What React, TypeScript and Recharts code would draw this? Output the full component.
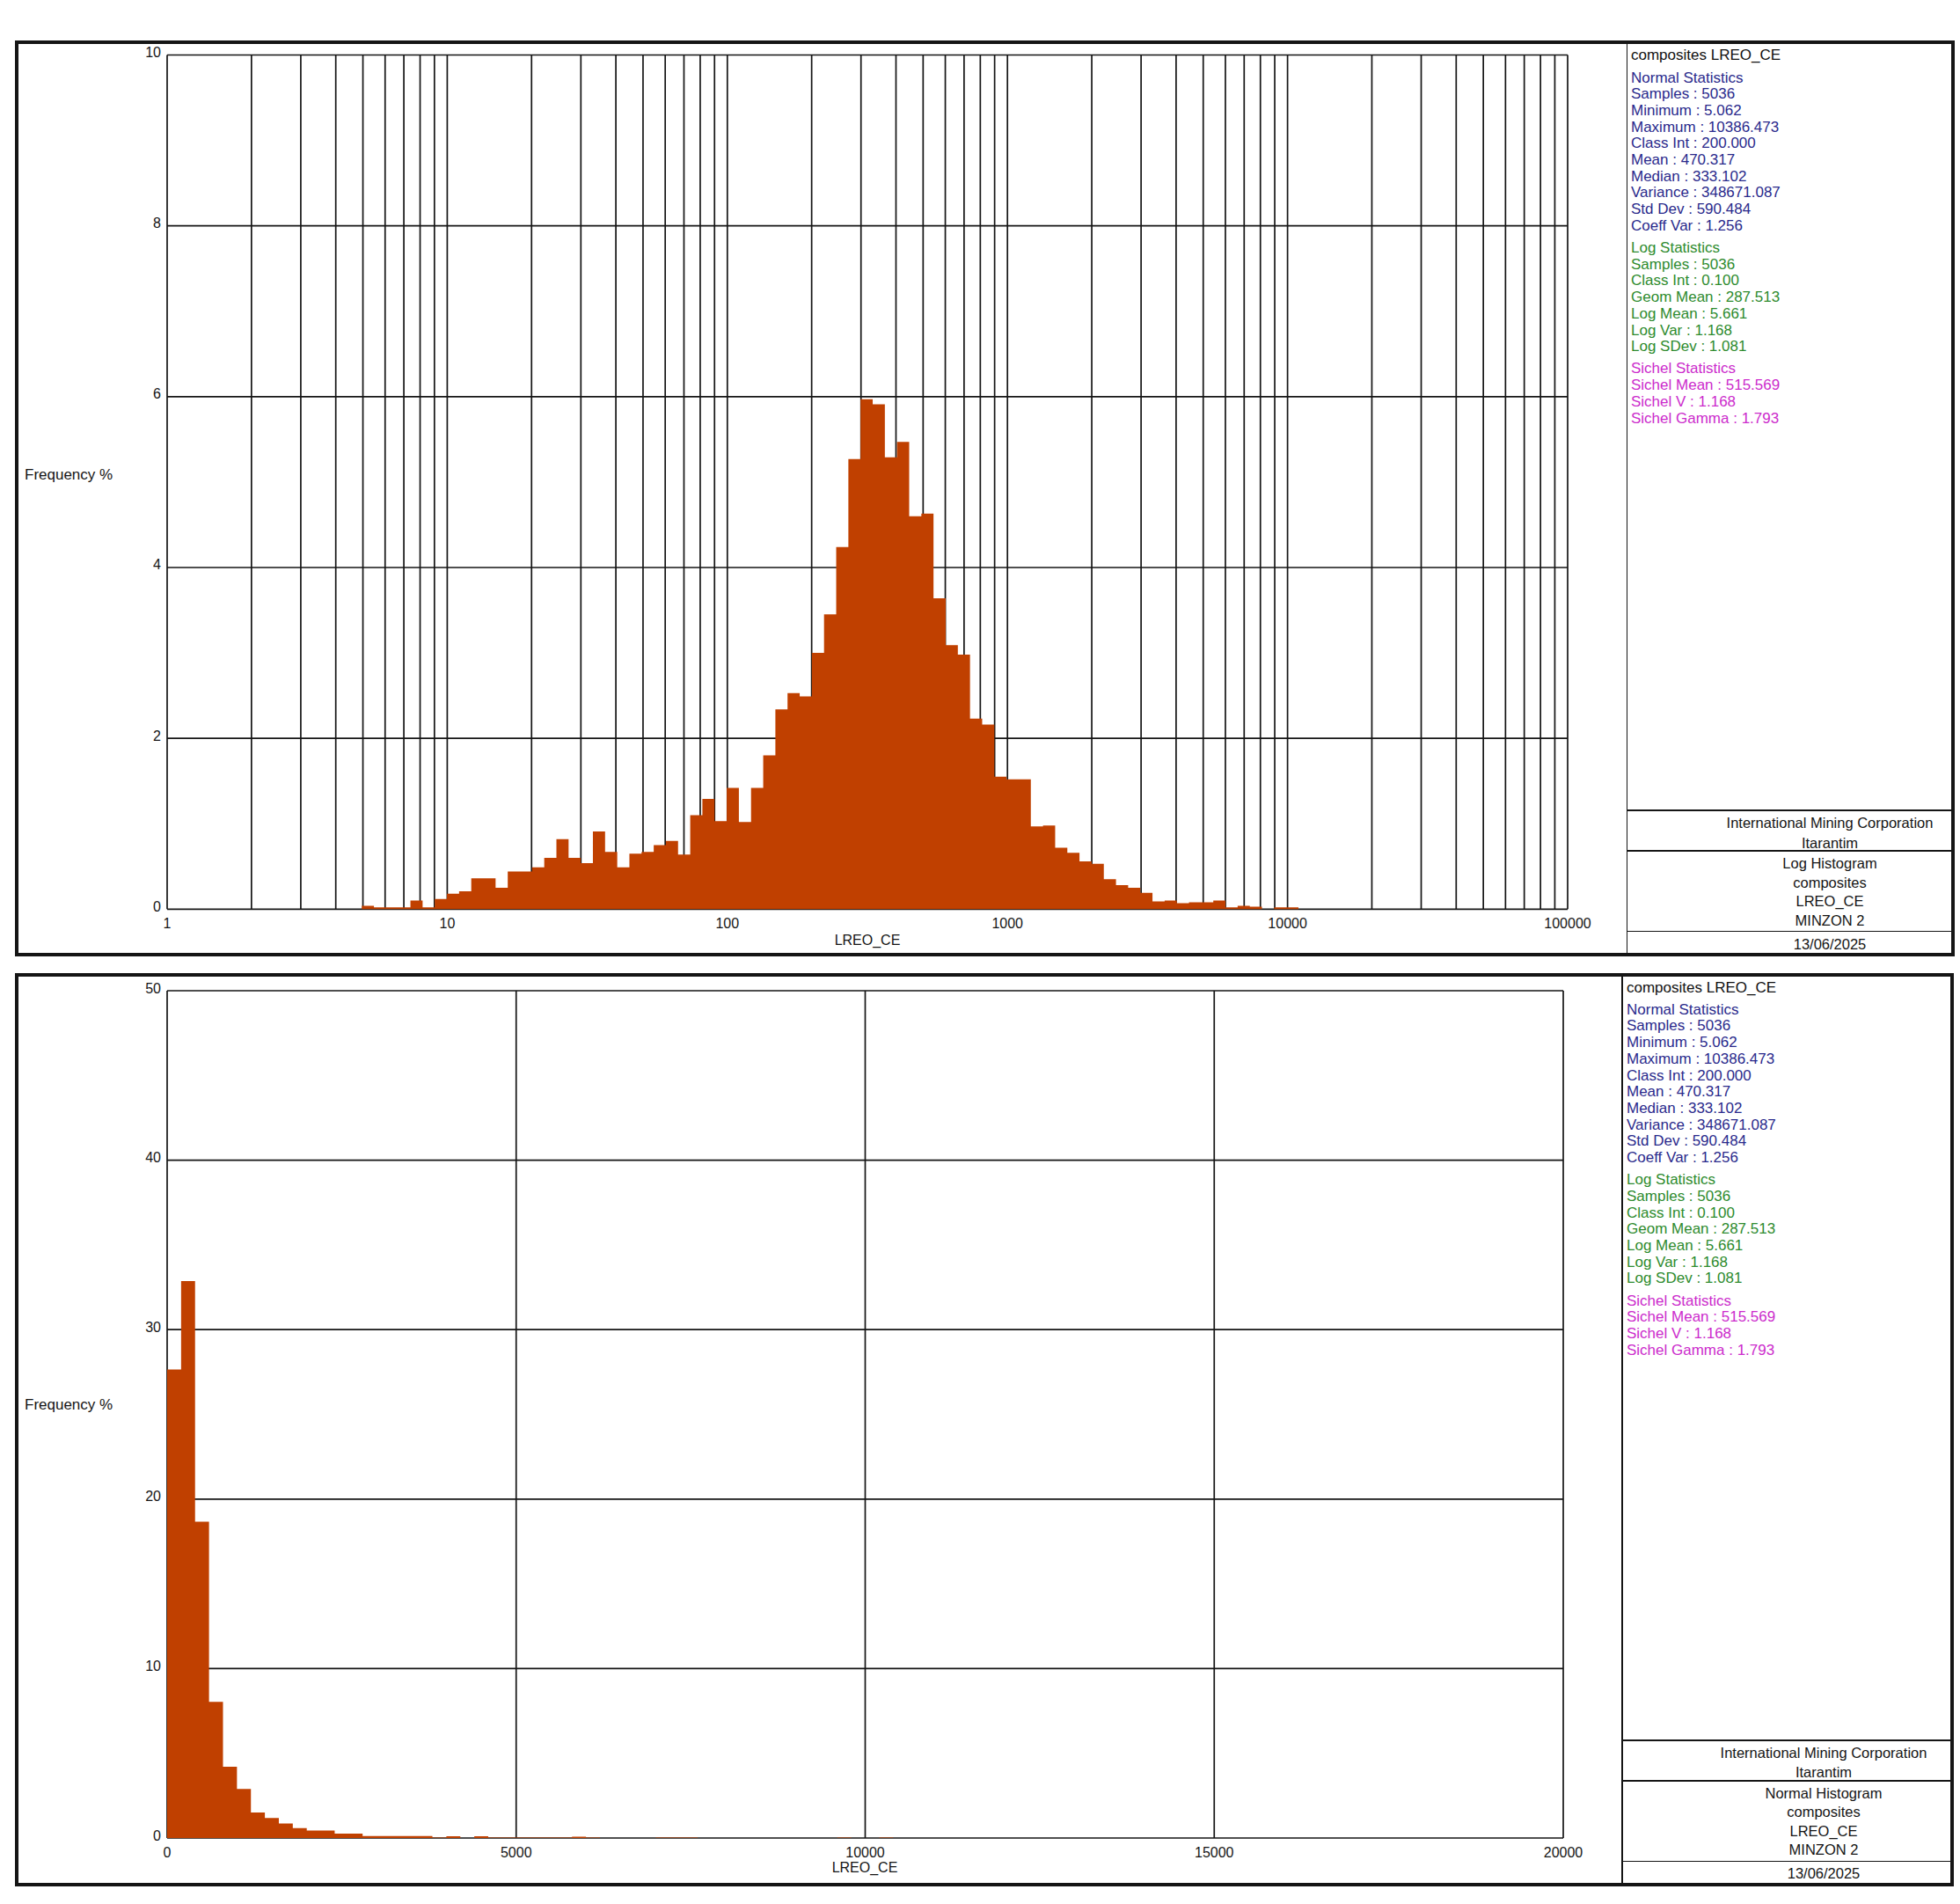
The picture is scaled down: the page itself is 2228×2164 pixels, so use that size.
import React from "react";
import { ComposedChart, Area, XAxis, YAxis, CartesianGrid } from "recharts";

// Log histogram: frequency % per ln-class of 0.1, first class starts at ln = 1.6
const LOG_CLASS_INT = 0.1;
const LOG_FIRST_CLASS = 16;
const logFreq = [
  0.04, 0.02, 0.02, 0.02, 0.1, 0.02, 0.12, 0.18, 0.21, 0.36,
  0.36, 0.25, 0.44, 0.44, 0.49, 0.6, 0.82, 0.6, 0.54, 0.91,
  0.67, 0.49, 0.65, 0.67, 0.75, 0.8, 0.64, 1.1, 1.29, 1.03,
  1.42, 1.02, 1.42, 1.8, 2.34, 2.53, 2.49, 3.0, 3.45, 4.24,
  5.27, 5.97, 5.91, 5.29, 5.47, 4.6, 4.63, 3.64, 3.09, 2.98,
  2.23, 2.16, 1.55, 1.52, 1.52, 0.97, 0.98, 0.72, 0.66, 0.56,
  0.53, 0.35, 0.28, 0.25, 0.19, 0.09, 0.1, 0.07, 0.08, 0.08,
  0.1, 0.02, 0.04, 0.03, 0, 0.02, 0.02,
];

// Normal histogram: frequency % per class of 200
const NORMAL_CLASS_INT = 200;
const normalFreq = [
  27.65, 32.87, 18.66, 8.03, 4.21, 2.89, 1.51, 1.18, 0.86, 0.59,
  0.44, 0.44, 0.26, 0.26, 0.12, 0.12, 0.12, 0.12, 0.12, 0.02,
  0.1, 0, 0.1, 0.02, 0.02, 0.02, 0.02, 0.02, 0.02, 0.08,
  0.02, 0, 0, 0, 0, 0.02, 0.02, 0.02, 0, 0,
  0, 0, 0, 0, 0, 0, 0, 0, 0.02, 0,
  0, 0.02,
];

const logTicks = [
  1, 2, 3, 4, 5, 6, 7, 8, 9,
  10, 20, 30, 40, 50, 60, 70, 80, 90,
  100, 200, 300, 400, 500, 600, 700, 800, 900,
  1000, 2000, 3000, 4000, 5000, 6000, 7000, 8000, 9000,
  10000, 20000, 30000, 40000, 50000, 60000, 70000, 80000, 90000,
  100000,
];
const logLabels = [1, 10, 100, 1000, 10000, 100000];
const logYTicks = [0, 2, 4, 6, 8, 10];
const normalXTicks = [0, 5000, 10000, 15000, 20000];
const normalYTicks = [0, 10, 20, 30, 40, 50];

const statTitle = "composites LREO_CE";
const normalStats = [
  "Normal Statistics",
  "Samples : 5036",
  "Minimum : 5.062",
  "Maximum : 10386.473",
  "Class Int : 200.000",
  "Mean : 470.317",
  "Median : 333.102",
  "Variance : 348671.087",
  "Std Dev : 590.484",
  "Coeff Var : 1.256",
];
const logStats = [
  "Log Statistics",
  "Samples : 5036",
  "Class Int : 0.100",
  "Geom Mean : 287.513",
  "Log Mean : 5.661",
  "Log Var : 1.168",
  "Log SDev : 1.081",
];
const sichelStats = [
  "Sichel Statistics",
  "Sichel Mean : 515.569",
  "Sichel V : 1.168",
  "Sichel Gamma : 1.793",
];
const company = ["International Mining Corporation", "Itarantim"];
const logTitle = ["Log Histogram", "composites", "LREO_CE", "MINZON 2"];
const normalTitle = ["Normal Histogram", "composites", "LREO_CE", "MINZON 2"];
const plotDate = "13/06/2025";

const FONT = "'Liberation Sans', Arial, sans-serif";
const BAR = "#c04000";
const INK = "#151515";

const logData = [
  ...logFreq.map((f, i) => ({ x: Math.exp((LOG_FIRST_CLASS + i) * LOG_CLASS_INT), freq: f })),
  { x: Math.exp((LOG_FIRST_CLASS + logFreq.length) * LOG_CLASS_INT), freq: 0 },
];
const normalData = [
  ...normalFreq.map((f, i) => ({ x: i * NORMAL_CLASS_INT, freq: f })),
  { x: normalFreq.length * NORMAL_CLASS_INT, freq: 0 },
];

function Txt({ x, y, children, color = INK, size = 17, center = false }: any) {
  return (
    <div
      style={{
        position: "absolute",
        left: x,
        top: y - 10,
        lineHeight: "20px",
        height: 20,
        fontSize: size,
        fontFamily: FONT,
        color,
        whiteSpace: "nowrap",
        transform: center ? "translateX(-50%)" : undefined,
      }}
    >
      {children}
    </div>
  );
}

function XTick({ x, y, payload, show }: any) {
  if (show && !show.includes(payload.value)) return null;
  return (
    <text x={x} y={y + 22} textAnchor="middle" fontSize={16} fontFamily={FONT} fill={INK}>
      {payload.value}
    </text>
  );
}

function YTick({ x, y, payload }: any) {
  return (
    <text x={x} y={y + 2.5} textAnchor="end" fontSize={16} fontFamily={FONT} fill={INK}>
      {payload.value}
    </text>
  );
}

function Panel({ T, B, sepX, right, textX, centerX, title }: any) {
  const line = (style: any) => <div style={{ position: "absolute", background: INK, ...style }} />;
  const LH = 18.7;
  const GAP = 6.5;
  const rows: { text: string; color: string; y: number }[] = [];
  let y = T + 15;
  rows.push({ text: statTitle, color: "#111", y });
  y += LH + GAP;
  normalStats.forEach((s, i) => rows.push({ text: s, color: "#2a2a8c", y: y + i * LH }));
  y += (normalStats.length - 1) * LH + LH + GAP;
  logStats.forEach((s, i) => rows.push({ text: s, color: "#2e8b2e", y: y + i * LH }));
  y += (logStats.length - 1) * LH + LH + GAP;
  sichelStats.forEach((s, i) => rows.push({ text: s, color: "#cc2ccc", y: y + i * LH }));
  return (
    <>
      <div
        style={{
          position: "absolute",
          left: 17,
          top: T - 2,
          width: right + 2 - 17,
          height: B - T + 4,
          border: `4px solid ${INK}`,
          boxSizing: "border-box",
        }}
      />
      {line({ left: sepX - 0.75, top: T, width: 1.5, height: B - T })}
      {[B - 164, B - 118, B - 26.5].map((hy, i) => (
        <React.Fragment key={i}>{line({ left: sepX, top: hy - 0.75, width: right - sepX, height: 1.5 })}</React.Fragment>
      ))}
      {rows.map((r, i) => (
        <Txt key={i} x={textX} y={r.y} color={r.color}>
          {r.text}
        </Txt>
      ))}
      <Txt x={centerX} y={B - 150} size={16.5} center>{company[0]}</Txt>
      <Txt x={centerX} y={B - 127.5} size={16.5} center>{company[1]}</Txt>
      {title.map((t: string, i: number) => (
        <Txt key={t} x={centerX} y={B - 104 + i * 21.5} size={16.5} center>
          {t}
        </Txt>
      ))}
      <Txt x={centerX} y={B - 12.5} size={16.5} center>{plotDate}</Txt>
    </>
  );
}

export default function App() {
  return (
    <div style={{ position: "absolute", left: 0, top: 0, width: 2228, height: 2164, background: "#fff", overflow: "hidden" }}>
      <Panel T={48.3} B={1085} sepX={1849.5} right={2220} textX={1854} centerX={2080} title={logTitle} />
      <Panel T={1107.5} B={2141.8} sepX={1844} right={2218.5} textX={1849} centerX={2073} title={normalTitle} />

      {/* log histogram */}
      <div style={{ position: "absolute", left: 0, top: 0 }}>
        <ComposedChart width={1840} height={1100} data={logData} margin={{ top: 62.5, right: 58, bottom: 36.7, left: 130 }}>
          <CartesianGrid stroke={INK} strokeWidth={1.7} />
          <XAxis
            dataKey="x"
            type="number"
            scale="log"
            domain={[1, 100000]}
            ticks={logTicks}
            interval={0}
            height={30}
            axisLine={false}
            tickLine={false}
            tickSize={0}
            tickMargin={0}
            tick={<XTick show={logLabels} />}
            allowDataOverflow
          />
          <YAxis
            type="number"
            domain={[0, 10]}
            ticks={logYTicks}
            interval={0}
            width={60}
            axisLine={false}
            tickLine={false}
            tickSize={0}
            tickMargin={7}
            tick={<YTick />}
          />
          <Area
            dataKey="freq"
            type="stepAfter"
            stroke="none"
            fill={BAR}
            fillOpacity={1}
            isAnimationActive={false}
            dot={false}
            activeDot={false}
          />
        </ComposedChart>
      </div>

      {/* normal histogram */}
      <div style={{ position: "absolute", left: 0, top: 1060 }}>
        <ComposedChart width={1840} height={1100} data={normalData} margin={{ top: 66, right: 63, bottom: 41, left: 130 }}>
          <CartesianGrid stroke={INK} strokeWidth={1.7} />
          <XAxis
            dataKey="x"
            type="number"
            domain={[0, 20000]}
            ticks={normalXTicks}
            interval={0}
            height={30}
            axisLine={false}
            tickLine={false}
            tickSize={0}
            tickMargin={0}
            tick={<XTick />}
          />
          <YAxis
            type="number"
            domain={[0, 50]}
            ticks={normalYTicks}
            interval={0}
            width={60}
            axisLine={false}
            tickLine={false}
            tickSize={0}
            tickMargin={7}
            tick={<YTick />}
          />
          <Area
            dataKey="freq"
            type="stepAfter"
            stroke="none"
            fill={BAR}
            fillOpacity={1}
            isAnimationActive={false}
            dot={false}
            activeDot={false}
          />
        </ComposedChart>
      </div>

      <Txt x={28} y={540}>Frequency %</Txt>
      <Txt x={986} y={1068.5} size={16} center>LREO_CE</Txt>
      <Txt x={28} y={1597}>Frequency %</Txt>
      <Txt x={983} y={2123} size={16} center>LREO_CE</Txt>
    </div>
  );
}
